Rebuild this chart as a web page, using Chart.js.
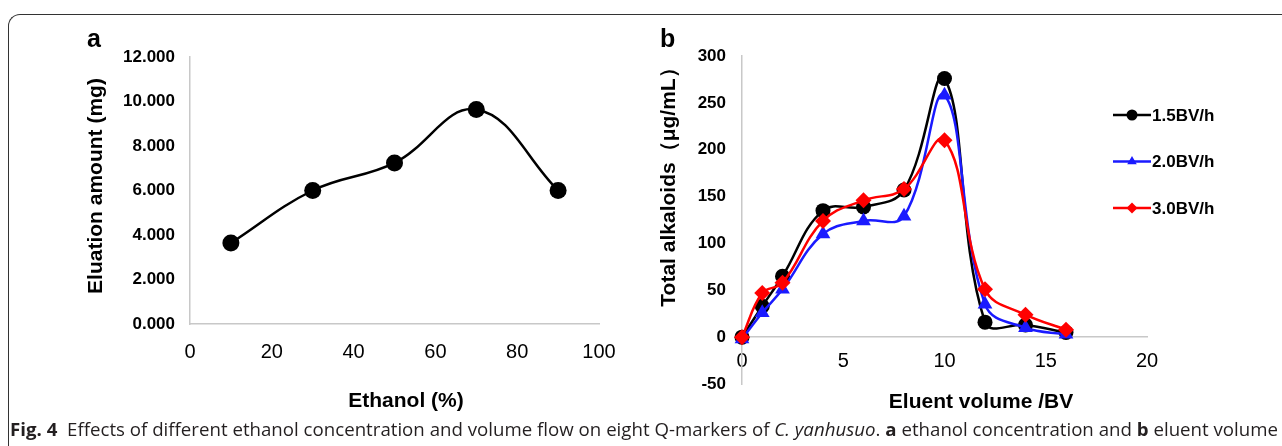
<!DOCTYPE html>
<html>
<head>
<meta charset="utf-8">
<title>Fig. 4</title>
<script src="https://cdn.jsdelivr.net/npm/chart.js@4.4.0/dist/chart.umd.min.js"></script>
<style>
  body { margin: 0; width: 1282px; height: 446px; overflow: hidden; background: #fff; position: relative;
         font-family: "Liberation Sans", Arial, sans-serif; }
  .frame { position: absolute; left: 8px; top: 14px; width: 1300px; height: 460px;
           border-top: 1.5px solid #333; border-left: 1.5px solid #333; border-top-left-radius: 12px; }
  canvas { position: absolute; top: 0; }
  #chartA { left: 0; }
  #chartB { left: 640px; }
  .lbl { position: absolute; font-weight: bold; color: #000; line-height: 1; white-space: nowrap; }
  .panel { font-size: 25px; }
  .xt { font-size: 21px; transform: translate(-50%, -50%); }
  .yt { font-size: 21px; transform: translate(-50%, -50%) rotate(-90deg); }
  #caption { position: absolute; left: 10px; top: 418px; font-family: "Open Sans", sans-serif; font-size: 18.5px;
             white-space: nowrap; transform-origin: 0 0; color: #231f20; line-height: 1.2; }
</style>
</head>
<body>
<div class="frame"></div>
<canvas id="chartA" width="640" height="446"></canvas>
<canvas id="chartB" width="642" height="446"></canvas>

<div class="lbl panel" style="left:87px; top:26px;">a</div>
<div class="lbl panel" style="left:660px; top:26px;">b</div>
<div class="lbl yt" style="left:94px; top:186px;">Eluation amount (mg)</div>
<div class="lbl xt" style="left:406px; top:399px;">Ethanol (%)</div>
<div class="lbl yt" style="left:667px; top:182px;">Total alkaloids（μg/mL）</div>
<div class="lbl xt" style="left:981px; top:400px;">Eluent volume /BV</div>

<div id="caption"><b>Fig. 4</b>&nbsp; Effects of different ethanol concentration and volume flow on eight Q-markers of <i>C. yanhusuo</i>. <b>a</b> ethanol concentration and <b>b</b> eluent volume</div>

<script>
// panel a
const ethanol = [10, 30, 50, 70, 90];
const elution = [3.64, 6.0, 7.24, 9.64, 6.0];
const ethanolTicks = [0, 20, 40, 60, 80, 100];
const elutionTicks = [0, 2, 4, 6, 8, 10, 12];

// panel b
const volume = [0, 1, 2, 4, 6, 8, 10, 12, 14, 16];
const flow15 = [0, 33, 65, 135, 139, 157, 276, 16, 13, 5];
const flow20 = [-2, 26, 51, 110, 124, 129, 258, 35, 10, 3];
const flow30 = [0, 47, 58, 124, 146, 158, 210, 51, 24, 8];
const flowNames = ['1.5BV/h', '2.0BV/h', '3.0BV/h'];
const volumeTicks = [0, 5, 10, 15, 20];
const alkaloidTicks = [-50, 0, 50, 100, 150, 200, 250, 300];

const FONT = '"Liberation Sans", Arial, sans-serif';
const AXIS = '#c8c8c8';

const pts = (xs, ys) => xs.map((x, i) => ({ x: x, y: ys[i] }));
const setTicks = list => scale => { scale.ticks = list.map(v => ({ value: v })); };

new Chart(document.getElementById('chartA'), {
  type: 'line',
  data: {
    datasets: [{
      data: pts(ethanol, elution),
      borderColor: '#000',
      backgroundColor: '#000',
      borderWidth: 2.5,
      tension: 0.4,
      pointRadius: 8.5,
      pointBorderWidth: 0,
      pointBackgroundColor: '#000',
      clip: false
    }]
  },
  options: {
    responsive: false,
    animation: false,
    layout: { padding: { top: 57, right: 41, bottom: 0, left: 0 } },
    plugins: { legend: { display: false }, tooltip: { enabled: false } },
    scales: {
      x: {
        type: 'linear', min: 0, max: 100,
        afterBuildTicks: setTicks(ethanolTicks),
        afterFit: s => { s.height = 122; },
        grid: { display: false, drawTicks: false },
        border: { color: AXIS, width: 1.5 },
        ticks: { padding: 16, color: '#000', font: { family: FONT, size: 20 } }
      },
      y: {
        min: 0, max: 12,
        afterBuildTicks: setTicks(elutionTicks),
        afterFit: s => { s.width = 190; },
        grid: { display: false, drawTicks: false },
        border: { color: AXIS, width: 1.5 },
        ticks: { padding: 15, color: '#000', font: { family: FONT, size: 17, weight: 'bold' },
                 callback: v => v.toFixed(3) }
      }
    }
  }
});

const legendB = {
  id: 'legendB',
  afterDraw(chart) {
    const ctx = chart.ctx;
    ctx.save();
    chart.data.datasets.forEach((ds, i) => {
      const y = 115 + i * 46.5;
      ctx.strokeStyle = ds.borderColor;
      ctx.lineWidth = 2.5;
      ctx.beginPath();
      ctx.moveTo(473, y);
      ctx.lineTo(511, y);
      ctx.stroke();
      ctx.fillStyle = ds.pointBackgroundColor;
      Chart.helpers.drawPoint(ctx, { pointStyle: ds.pointStyle, radius: 5.5, rotation: 0, borderWidth: 0 }, 492, y);
      ctx.fillStyle = '#000';
      ctx.font = 'bold 17px ' + FONT;
      ctx.textBaseline = 'middle';
      ctx.textAlign = 'left';
      ctx.fillText(ds.label, 512, y + 1);
    });
    ctx.restore();
  }
};

const series = (label, values, color, style, radius, order) => ({
  label: label,
  data: pts(volume, values),
  borderColor: color,
  backgroundColor: color,
  pointBackgroundColor: color,
  pointStyle: style,
  pointRadius: radius,
  pointBorderWidth: 0,
  borderWidth: 2.5,
  tension: 0.4,
  order: order,
  clip: false
});

new Chart(document.getElementById('chartB'), {
  type: 'line',
  data: {
    datasets: [
      series(flowNames[0], flow15, '#000000', 'circle', 7.5, 2),
      series(flowNames[1], flow20, '#1a1aff', 'triangle', 8.5, 1),
      series(flowNames[2], flow30, '#ff0000', 'rectRot', 8, 0)
    ]
  },
  options: {
    responsive: false,
    animation: false,
    layout: { padding: { top: 56, right: 135, bottom: 62, left: 0 } },
    plugins: { legend: { display: false }, tooltip: { enabled: false } },
    scales: {
      x: {
        type: 'linear', min: 0, max: 20,
        position: { y: 0 },
        afterBuildTicks: setTicks(volumeTicks),
        grid: { display: false, drawTicks: false },
        border: { color: AXIS, width: 1.5 },
        ticks: { padding: 12, color: '#000', font: { family: FONT, size: 20 } }
      },
      y: {
        min: -50, max: 300,
        afterBuildTicks: setTicks(alkaloidTicks),
        afterFit: s => { s.width = 102; },
        grid: { display: false, drawTicks: false },
        border: { color: AXIS, width: 1.5 },
        ticks: { padding: 16, color: '#000', font: { family: FONT, size: 17, weight: 'bold' } }
      }
    }
  },
  plugins: [legendB]
});

function fitCaption() {
  const cap = document.getElementById('caption');
  cap.style.transform = 'none';
  const w = cap.getBoundingClientRect().width;
  cap.style.transform = 'scaleX(' + (1268 / w) + ')';
}
fitCaption();
if (document.fonts) document.fonts.ready.then(fitCaption);
</script>
</body>
</html>
